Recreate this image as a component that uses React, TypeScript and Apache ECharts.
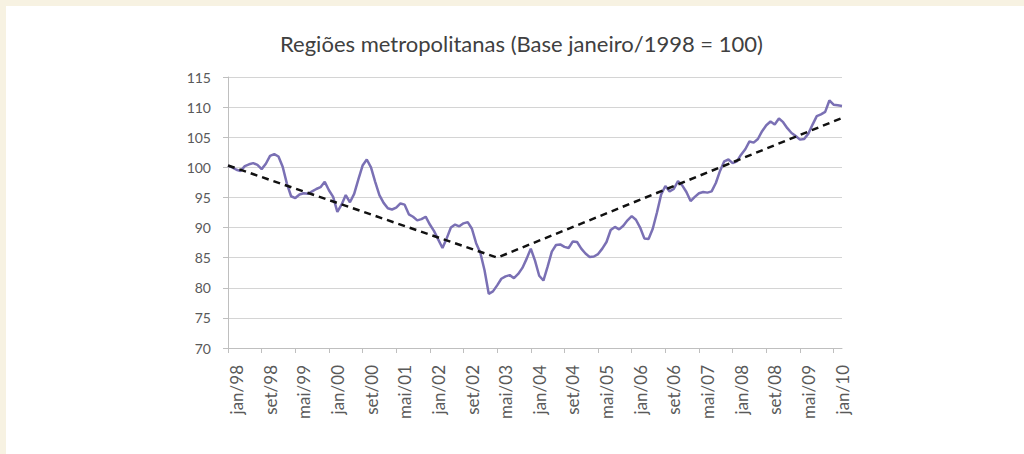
import React, { useEffect, useRef } from "react";
import * as echarts from "echarts";

const MONTHS = ["jan", "fev", "mar", "abr", "mai", "jun", "jul", "ago", "set", "out", "nov", "dez"];
const START_YEAR = 1998;
const N_MONTHS = 147;

const categories: string[] = [];
for (let i = 0; i < N_MONTHS; i++) {
  const y = (START_YEAR + Math.floor(i / 12)) % 100;
  categories.push(MONTHS[i % 12] + "/" + String(y).padStart(2, "0"));
}

const indice = [
  100.3, 100.0, 99.6, 99.4, 100.2, 100.5, 100.7, 100.4, 99.7, 100.6, 101.9, 102.2,
  101.8, 100.1, 97.3, 95.2, 94.9, 95.5, 95.7, 95.6, 96.0, 96.4, 96.7, 97.6,
  96.2, 95.1, 92.6, 93.8, 95.4, 94.2, 95.6, 98.0, 100.3, 101.3, 100.0, 97.6,
  95.4, 94.1, 93.2, 93.0, 93.3, 94.0, 93.8, 92.2, 91.8, 91.2, 91.4, 91.8,
  90.5, 89.4, 88.0, 86.6, 88.2, 90.0, 90.5, 90.2, 90.7, 90.9, 89.8, 87.4,
  85.8, 82.9, 79.0, 79.4, 80.4, 81.5, 81.9, 82.1, 81.6, 82.3, 83.3, 84.8,
  86.5, 84.5, 82.0, 81.2, 83.5, 86.0, 87.1, 87.2, 86.8, 86.6, 87.7, 87.6,
  86.5, 85.7, 85.1, 85.2, 85.6, 86.5, 87.6, 89.6, 90.1, 89.7, 90.3, 91.2,
  91.9, 91.3, 90.0, 88.2, 88.1, 89.8, 92.5, 95.5, 96.9, 96.0, 96.4, 97.7,
  97.0, 95.9, 94.4, 95.1, 95.7, 95.9, 95.8, 96.0, 97.4, 99.4, 101.0, 101.3,
  100.7, 101.0, 102.1, 103.0, 104.3, 104.1, 104.7, 106.0, 107.0, 107.6, 107.1, 108.1,
  107.5, 106.5, 105.7, 105.2, 104.6, 104.7, 105.6, 107.1, 108.5, 108.8, 109.2, 111.1,
  110.4, 110.3, 110.2,
];

// trend line vertices: [month index, value]
const tendencia: [number, number][] = [
  [0, 100.3],
  [64, 85.0],
  [146, 108.2],
];

const Y_MIN = 70;
const Y_MAX = 115;
const Y_STEP = 5;

const TITLE = "Regiões metropolitanas (Base janeiro/1998 = 100)";

export default function App() {
  const ref = useRef<HTMLDivElement>(null);

  useEffect(() => {
    document.body.style.margin = "0";
    if (!ref.current) return;
    const chart = echarts.init(ref.current, undefined, { renderer: "svg" });
    chart.setOption({
      animation: false,
      backgroundColor: "#f7f2e2",
      graphic: [
        {
          type: "rect",
          z: -10,
          silent: true,
          shape: { x: 6, y: 6, width: 1024, height: 454 },
          style: { fill: "#ffffff" },
        },
      ],
      title: {
        text: TITLE,
        left: 275,
        top: 27,
        textStyle: {
          fontFamily: "Lato",
          fontSize: 22,
          fontWeight: "normal",
          color: "#404040",
        },
      },
      grid: { left: 228, right: 182, top: 77, bottom: 106 },
      xAxis: {
        type: "category",
        data: categories,
        boundaryGap: false,
        axisLine: { lineStyle: { color: "#bfbfbf", width: 1 } },
        axisTick: { show: true, interval: 7, length: 5, lineStyle: { color: "#bfbfbf" } },
        axisLabel: {
          interval: 7,
          rotate: 90,
          margin: 17,
          verticalAlign: "top",
          fontFamily: "Lato",
          fontSize: 17,
          color: "#595959",
        },
        splitLine: { show: false },
      },
      yAxis: {
        type: "value",
        min: Y_MIN,
        max: Y_MAX,
        interval: Y_STEP,
        axisLine: { show: true, lineStyle: { color: "#bfbfbf", width: 1 } },
        axisTick: { show: true, length: 5, lineStyle: { color: "#bfbfbf" } },
        axisLabel: {
          margin: 17,
          fontFamily: "Lato",
          fontSize: 14,
          color: "#595959",
        },
        splitLine: { show: true, lineStyle: { color: "#d4d4d4", width: 1 } },
      },
      series: [
        {
          name: "Índice",
          type: "line",
          data: indice,
          showSymbol: false,
          symbol: "none",
          lineStyle: { color: "#7a70b4", width: 2.5 },
          z: 2,
        },
        {
          name: "Tendência",
          type: "line",
          data: tendencia,
          showSymbol: false,
          symbol: "none",
          lineStyle: { color: "#111111", width: 2.5, type: [7, 5] },
          z: 3,
        },
      ],
    });
    return () => chart.dispose();
  }, []);

  return (
    <div
      ref={ref}
      style={{ position: "fixed", left: 0, top: 0, width: 1024, height: 454 }}
    />
  );
}
